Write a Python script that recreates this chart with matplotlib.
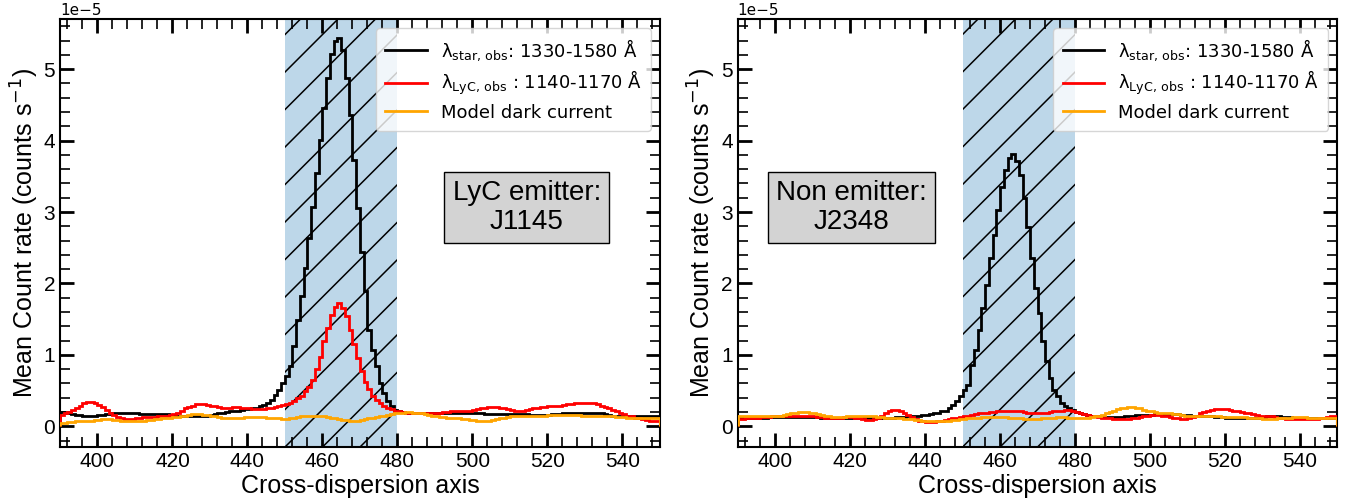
import numpy as np
import matplotlib
matplotlib.use("Agg")
import matplotlib.pyplot as plt
from matplotlib.ticker import MultipleLocator
from matplotlib.collections import LineCollection
from matplotlib.transforms import IdentityTransform

# bin edges along the cross-dispersion axis (1 pixel bins)
edges = np.arange(390, 551)

# ---- LyC emitter J1145 (units of 1e-5 counts/s) ----
j1145_star = [
    0.20, 0.19, 0.18, 0.17, 0.16, 0.16, 0.15, 0.15, 0.15, 0.15,
    0.16, 0.16, 0.17, 0.17, 0.18, 0.18, 0.18, 0.18, 0.18, 0.18,
    0.18, 0.17, 0.17, 0.17, 0.17, 0.17, 0.17, 0.17, 0.17, 0.16,
    0.16, 0.15, 0.15, 0.14, 0.14, 0.14, 0.14, 0.14, 0.15, 0.15,
    0.16, 0.17, 0.18, 0.19, 0.20, 0.21, 0.22, 0.22, 0.23, 0.24,
    0.24, 0.25, 0.26, 0.28, 0.30, 0.33, 0.37, 0.44, 0.51, 0.60,
    0.70, 0.84, 1.12, 1.49, 1.82, 2.21, 2.63, 3.07, 3.54, 4.01,
    4.46, 4.87, 5.21, 5.40, 5.43, 5.27, 4.88, 4.36, 3.73, 3.05,
    2.44, 1.89, 1.35, 1.07, 0.84, 0.60, 0.46, 0.35, 0.28, 0.23,
    0.21, 0.20, 0.19, 0.18, 0.18, 0.18, 0.18, 0.18, 0.18, 0.18,
    0.18, 0.18, 0.18, 0.18, 0.18, 0.18, 0.18, 0.18, 0.18, 0.18,
    0.18, 0.18, 0.18, 0.17, 0.17, 0.17, 0.17, 0.17, 0.17, 0.17,
    0.17, 0.17, 0.17, 0.17, 0.17, 0.16, 0.16, 0.16, 0.16, 0.16,
    0.16, 0.17, 0.17, 0.17, 0.18, 0.18, 0.18, 0.18, 0.18, 0.18,
    0.18, 0.18, 0.18, 0.18, 0.18, 0.17, 0.16, 0.15, 0.14, 0.14,
    0.14, 0.14, 0.14, 0.14, 0.14, 0.14, 0.14, 0.14, 0.14, 0.14,
]
j1145_lyc = [
    0.16, 0.18, 0.20, 0.23, 0.26, 0.29, 0.32, 0.34, 0.34, 0.33,
    0.30, 0.27, 0.23, 0.19, 0.16, 0.13, 0.11, 0.10, 0.10, 0.10,
    0.11, 0.12, 0.13, 0.13, 0.13, 0.13, 0.14, 0.14, 0.15, 0.16,
    0.17, 0.19, 0.22, 0.25, 0.27, 0.29, 0.31, 0.31, 0.31, 0.30,
    0.29, 0.28, 0.27, 0.26, 0.26, 0.26, 0.27, 0.27, 0.26, 0.25,
    0.25, 0.24, 0.24, 0.24, 0.24, 0.25, 0.26, 0.27, 0.29, 0.30,
    0.31, 0.33, 0.36, 0.40, 0.42, 0.49, 0.55, 0.65, 0.80, 0.97,
    1.19, 1.38, 1.56, 1.67, 1.72, 1.66, 1.55, 1.35, 1.15, 0.95,
    0.78, 0.62, 0.52, 0.43, 0.37, 0.32, 0.29, 0.26, 0.24, 0.22,
    0.21, 0.20, 0.19, 0.18, 0.18, 0.18, 0.18, 0.18, 0.18, 0.18,
    0.19, 0.19, 0.20, 0.20, 0.21, 0.21, 0.22, 0.22, 0.22, 0.22,
    0.23, 0.24, 0.25, 0.26, 0.27, 0.27, 0.27, 0.26, 0.25, 0.24,
    0.23, 0.22, 0.22, 0.22, 0.23, 0.24, 0.25, 0.26, 0.27, 0.27,
    0.28, 0.28, 0.29, 0.29, 0.30, 0.31, 0.31, 0.32, 0.32, 0.33,
    0.33, 0.33, 0.32, 0.31, 0.29, 0.27, 0.25, 0.23, 0.21, 0.19,
    0.17, 0.15, 0.14, 0.12, 0.11, 0.10, 0.09, 0.08, 0.08, 0.08,
]
j1145_dark = [
    0.05, 0.05, 0.06, 0.06, 0.07, 0.07, 0.07, 0.08, 0.08, 0.09,
    0.09, 0.10, 0.10, 0.10, 0.09, 0.09, 0.08, 0.08, 0.07, 0.07,
    0.07, 0.08, 0.08, 0.09, 0.09, 0.10, 0.10, 0.11, 0.12, 0.12,
    0.13, 0.13, 0.14, 0.15, 0.16, 0.17, 0.17, 0.17, 0.16, 0.16,
    0.15, 0.14, 0.13, 0.12, 0.11, 0.11, 0.11, 0.12, 0.12, 0.13,
    0.13, 0.13, 0.13, 0.13, 0.13, 0.12, 0.12, 0.11, 0.11, 0.10,
    0.10, 0.11, 0.12, 0.13, 0.14, 0.15, 0.15, 0.15, 0.15, 0.15,
    0.14, 0.13, 0.12, 0.11, 0.10, 0.09, 0.09, 0.08, 0.08, 0.08,
    0.09, 0.10, 0.11, 0.12, 0.13, 0.14, 0.15, 0.16, 0.17, 0.18,
    0.19, 0.19, 0.20, 0.20, 0.19, 0.19, 0.18, 0.17, 0.16, 0.15,
    0.14, 0.13, 0.13, 0.12, 0.12, 0.11, 0.11, 0.10, 0.10, 0.09,
    0.09, 0.08, 0.08, 0.08, 0.08, 0.09, 0.10, 0.11, 0.12, 0.13,
    0.14, 0.14, 0.14, 0.14, 0.14, 0.14, 0.14, 0.15, 0.15, 0.15,
    0.16, 0.16, 0.16, 0.16, 0.16, 0.16, 0.16, 0.16, 0.16, 0.15,
    0.15, 0.15, 0.15, 0.15, 0.15, 0.15, 0.14, 0.14, 0.13, 0.13,
    0.13, 0.12, 0.12, 0.12, 0.12, 0.12, 0.12, 0.12, 0.12, 0.12,
]

# ---- Non emitter J2348 ----
j2348_star = [
    0.11, 0.11, 0.11, 0.12, 0.12, 0.12, 0.12, 0.12, 0.13, 0.13,
    0.13, 0.13, 0.13, 0.13, 0.13, 0.13, 0.13, 0.13, 0.13, 0.13,
    0.13, 0.13, 0.12, 0.12, 0.12, 0.12, 0.12, 0.12, 0.12, 0.12,
    0.12, 0.12, 0.12, 0.12, 0.12, 0.12, 0.12, 0.12, 0.12, 0.12,
    0.12, 0.12, 0.13, 0.13, 0.13, 0.14, 0.14, 0.15, 0.15, 0.16,
    0.16, 0.17, 0.18, 0.19, 0.21, 0.22, 0.25, 0.30, 0.35, 0.42,
    0.51, 0.58, 0.86, 1.07, 1.35, 1.65, 1.98, 2.35, 2.68, 3.03,
    3.35, 3.59, 3.75, 3.81, 3.72, 3.52, 3.19, 2.79, 2.35, 1.93,
    1.58, 1.19, 0.91, 0.67, 0.51, 0.42, 0.33, 0.29, 0.25, 0.23,
    0.20, 0.18, 0.17, 0.16, 0.15, 0.14, 0.14, 0.13, 0.13, 0.13,
    0.13, 0.13, 0.13, 0.14, 0.15, 0.15, 0.16, 0.16, 0.16, 0.16,
    0.16, 0.17, 0.17, 0.17, 0.17, 0.17, 0.17, 0.17, 0.16, 0.16,
    0.16, 0.15, 0.15, 0.15, 0.14, 0.14, 0.14, 0.13, 0.13, 0.13,
    0.12, 0.12, 0.12, 0.11, 0.11, 0.11, 0.11, 0.12, 0.12, 0.13,
    0.13, 0.14, 0.14, 0.14, 0.14, 0.13, 0.13, 0.13, 0.12, 0.12,
    0.12, 0.12, 0.11, 0.11, 0.11, 0.11, 0.11, 0.11, 0.11, 0.11,
]
j2348_lyc = [
    0.10, 0.10, 0.11, 0.11, 0.12, 0.12, 0.13, 0.13, 0.13, 0.14,
    0.14, 0.14, 0.14, 0.14, 0.14, 0.15, 0.15, 0.15, 0.15, 0.14,
    0.14, 0.13, 0.13, 0.12, 0.12, 0.12, 0.12, 0.12, 0.13, 0.13,
    0.13, 0.12, 0.11, 0.10, 0.09, 0.09, 0.10, 0.12, 0.15, 0.18,
    0.21, 0.23, 0.23, 0.22, 0.19, 0.16, 0.13, 0.10, 0.08, 0.07,
    0.06, 0.06, 0.06, 0.07, 0.08, 0.09, 0.10, 0.11, 0.12, 0.13,
    0.14, 0.15, 0.16, 0.17, 0.18, 0.18, 0.19, 0.20, 0.20, 0.21,
    0.21, 0.22, 0.22, 0.22, 0.21, 0.21, 0.20, 0.19, 0.18, 0.18,
    0.18, 0.19, 0.19, 0.20, 0.21, 0.22, 0.22, 0.23, 0.23, 0.22,
    0.20, 0.18, 0.17, 0.16, 0.15, 0.14, 0.13, 0.12, 0.11, 0.11,
    0.10, 0.10, 0.10, 0.10, 0.10, 0.11, 0.12, 0.13, 0.14, 0.15,
    0.16, 0.16, 0.16, 0.15, 0.14, 0.13, 0.12, 0.11, 0.10, 0.10,
    0.11, 0.13, 0.15, 0.18, 0.20, 0.22, 0.23, 0.24, 0.24, 0.24,
    0.24, 0.23, 0.22, 0.21, 0.20, 0.19, 0.18, 0.17, 0.16, 0.15,
    0.15, 0.15, 0.14, 0.13, 0.12, 0.11, 0.10, 0.10, 0.10, 0.10,
    0.10, 0.10, 0.10, 0.10, 0.10, 0.11, 0.12, 0.13, 0.14, 0.15,
]
j2348_dark = [
    0.14, 0.14, 0.14, 0.14, 0.14, 0.15, 0.15, 0.15, 0.15, 0.15,
    0.15, 0.15, 0.16, 0.17, 0.18, 0.19, 0.20, 0.20, 0.20, 0.19,
    0.18, 0.17, 0.16, 0.15, 0.14, 0.13, 0.13, 0.13, 0.13, 0.14,
    0.14, 0.15, 0.15, 0.15, 0.15, 0.14, 0.14, 0.13, 0.13, 0.12,
    0.12, 0.12, 0.11, 0.11, 0.10, 0.10, 0.10, 0.09, 0.09, 0.08,
    0.08, 0.08, 0.07, 0.07, 0.07, 0.08, 0.08, 0.09, 0.09, 0.10,
    0.10, 0.11, 0.11, 0.12, 0.12, 0.13, 0.13, 0.13, 0.13, 0.13,
    0.13, 0.13, 0.12, 0.12, 0.11, 0.11, 0.10, 0.10, 0.10, 0.10,
    0.10, 0.11, 0.11, 0.12, 0.12, 0.13, 0.13, 0.13, 0.12, 0.12,
    0.11, 0.11, 0.12, 0.12, 0.13, 0.14, 0.15, 0.16, 0.18, 0.20,
    0.22, 0.24, 0.25, 0.26, 0.27, 0.27, 0.26, 0.25, 0.23, 0.22,
    0.21, 0.20, 0.19, 0.19, 0.18, 0.18, 0.17, 0.17, 0.16, 0.15,
    0.15, 0.14, 0.14, 0.14, 0.14, 0.14, 0.14, 0.14, 0.14, 0.13,
    0.13, 0.13, 0.13, 0.13, 0.13, 0.13, 0.12, 0.12, 0.11, 0.11,
    0.10, 0.10, 0.10, 0.10, 0.11, 0.11, 0.12, 0.12, 0.13, 0.13,
    0.13, 0.13, 0.12, 0.12, 0.12, 0.12, 0.11, 0.11, 0.11, 0.11,
]

aperture = (450, 480)
labels = [r'$\rm \lambda_{star,\,obs}$: 1330-1580 Å',
          r'$\rm \lambda_{LyC,\,obs}$ : 1140-1170 Å',
          'Model dark current']
boxes = ['LyC emitter:\nJ1145', 'Non emitter:\nJ2348']
box_x = [0.778, 0.19]

sans = 'Liberation Sans'

fig = plt.figure(figsize=(13.51, 5.04), dpi=100)
ax1 = fig.add_axes([0.0444, 0.113, 0.4441, 0.849])
ax2 = fig.add_axes([0.5459, 0.113, 0.4441, 0.849])

panels = [(ax1, j1145_star, j1145_lyc, j1145_dark),
          (ax2, j2348_star, j2348_lyc, j2348_dark)]

for i, (ax, star, lyc, dark) in enumerate(panels):
    ax.set_xlim(390, 550)
    ax.set_ylim(-0.29e-5, 5.7e-5)

    span = ax.axvspan(aperture[0], aperture[1], facecolor='#bdd7e9', linewidth=0, zorder=0)
    # sparse 45 deg hatching, one line every 10 pixels of the axis
    x0, y0 = ax.transData.transform((aperture[0], -0.29e-5))
    x1 = ax.transData.transform((aperture[1], 0))[0]
    step = ax.transData.transform((aperture[0] + 10, 0))[0] - x0
    h = ax.bbox.height
    segs = [[(x0 + k * step, y0), (x0 + k * step + h, y0 + h)]
            for k in range(-int(h / step) - 1, int((x1 - x0) / step) + 1)]
    lc = LineCollection(segs, colors='black', linewidths=1.1,
                        transform=IdentityTransform(), zorder=1)
    ax.add_collection(lc, autolim=False)
    lc.set_clip_path(span.get_path(), span.get_transform())

    ax.stairs(np.array(star) * 1e-5, edges, color='black', lw=2, label=labels[0], zorder=3)
    ax.stairs(np.array(lyc) * 1e-5, edges, color='red', lw=2, label=labels[1], zorder=3)
    ax.stairs(np.array(dark) * 1e-5, edges, color='orange', lw=2, label=labels[2], zorder=3)

    ax.xaxis.set_major_locator(MultipleLocator(20))
    ax.xaxis.set_minor_locator(MultipleLocator(4))
    ax.yaxis.set_major_locator(MultipleLocator(1e-5))
    ax.yaxis.set_minor_locator(MultipleLocator(0.2e-5))
    ax.tick_params(which='both', direction='in', top=True, right=True)
    ax.tick_params(which='major', length=10, width=2, labelsize=15)
    ax.tick_params(which='minor', length=7.5, width=1.2)
    for lab in ax.get_xticklabels() + ax.get_yticklabels():
        lab.set_fontfamily(sans)
    for sp in ax.spines.values():
        sp.set_linewidth(1.5)
    ax.yaxis.get_offset_text().set_fontsize(11)

    ax.set_xlabel('Cross-dispersion axis', fontsize=18, family=sans, labelpad=2)
    ax.set_ylabel('Mean Count rate (counts s$^{-1}$)', fontsize=18, family=sans, labelpad=2)

    leg = ax.legend(loc='upper right', fontsize=13, borderaxespad=0.5,
                    handlelength=2.3, borderpad=0.5, labelspacing=0.35)
    for line in leg.get_lines():
        line.set_linewidth(2)

    ax.text(box_x[i], 0.56, boxes[i], transform=ax.transAxes, ha='center', va='center',
            fontsize=20, family=sans, zorder=5, linespacing=1.15,
            bbox=dict(boxstyle='square,pad=0.3', facecolor='lightgray', edgecolor='black', lw=1))

fig.savefig('out.png', dpi=100)
